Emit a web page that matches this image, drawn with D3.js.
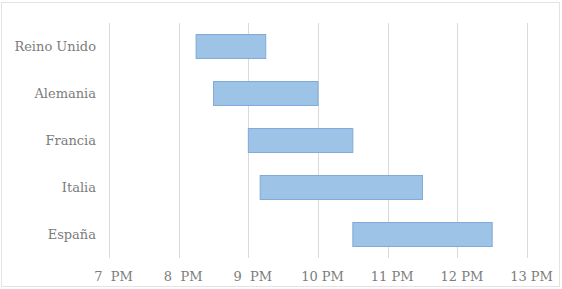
<!DOCTYPE html>
<html><head><meta charset="utf-8">
<script src="https://cdn.jsdelivr.net/npm/d3@7/dist/d3.min.js"></script>
<style>body{margin:0;background:#fff}svg{display:block}
svg text{font-family:"DejaVu Serif",serif !important;font-size:13px;fill:#7c7c7c}</style>
</head><body>
<svg id="c" width="562" height="289"></svg>
<script>
const categories = ["Reino Unido","Alemania","Francia","Italia","España"];
const startHours = [8.25, 8.5, 9.0, 9.17, 10.5];
const endHours   = [9.25, 10.0, 10.5, 11.5, 12.5];
const tickValues = [7,8,9,10,11,12,13];
const tickLabels = ["7  PM","8  PM","9  PM","10 PM","11 PM","12 PM","13 PM"];

const svg = d3.select("#c");
const x = d3.scaleLinear().domain([7,13]).range([109,527]);
const y = d3.scaleBand().domain(categories).range([23,258]).paddingInner(0.49).paddingOuter(0.245);

// frame
svg.append("rect").attr("x",1.5).attr("y",2.5).attr("width",558).attr("height",284)
  .attr("fill","none").attr("stroke","#e3e3e3").attr("stroke-width",1);

// grid
svg.append("g").selectAll("line").data(tickValues).join("line")
  .attr("x1",d=>Math.round(x(d))+0.5).attr("x2",d=>Math.round(x(d))+0.5)
  .attr("y1",23).attr("y2",258).attr("stroke","#d9d9d9").attr("stroke-width",1);

// bars
svg.append("g").selectAll("rect").data(categories).join("rect")
  .attr("x",(d,i)=>x(startHours[i])).attr("y",d=>y(d))
  .attr("width",(d,i)=>x(endHours[i])-x(startHours[i])).attr("height",y.bandwidth())
  .attr("fill","#9dc3e6").attr("stroke","#80aad9").attr("stroke-width",1);

// x labels
const xa = d3.axisBottom(x).tickValues(tickValues).tickSize(0).tickFormat((d,i)=>tickLabels[i]);
const gx = svg.append("g").attr("transform","translate(4,258)").call(xa);
gx.select(".domain").remove();
gx.selectAll("text").attr("dy",null).attr("y",23).style("white-space","pre");

// y labels
const ya = d3.axisLeft(y).tickSize(0).tickPadding(0);
const gy = svg.append("g").attr("transform","translate(96,0)").call(ya);
gy.select(".domain").remove();
</script>
</body></html>
